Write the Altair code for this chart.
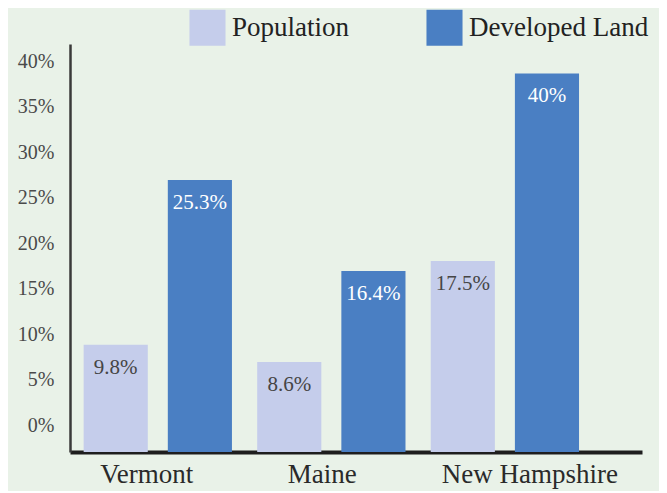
import altair as alt
import pandas as pd

# Data
states = ["Vermont", "Maine", "New Hampshire"]
series = ["Population", "Developed Land"]
# bar heights as drawn (in axis units, measured from the baseline)
pop_heights = [11.8, 9.9, 21.0]
dev_heights = [29.9, 19.9, 41.6]
# printed labels
pop_labels = ["9.8%", "8.6%", "17.5%"]
dev_labels = ["25.3%", "16.4%", "40%"]
y_ticks = [0, 5, 10, 15, 20, 25, 30, 35, 40]

rows = []
for i, s in enumerate(states):
    rows.append({"state": s, "series": "Population", "value": pop_heights[i], "label": pop_labels[i]})
    rows.append({"state": s, "series": "Developed Land", "value": dev_heights[i], "label": dev_labels[i]})
df = pd.DataFrame(rows)

FONT = "Liberation Serif"
POP_COLOR = "#c5cdeb"
DEV_COLOR = "#4a7fc3"
BG = "#e9f2e8"

x_enc = alt.X(
    "state:N",
    sort=states,
    scale=alt.Scale(paddingInner=0, paddingOuter=0.148, align=0.02),
    axis=alt.Axis(
        title=None,
        labelAngle=0,
        ticks=False,
        tickSize=0,
        labelFont=FONT,
        labelFontSize=27,
        labelColor="#2a2a2a",
        labelPadding=9,
        labelBaseline="top",
        labelOffset={
            "condition": [
                {"test": "datum.value === 'Vermont'", "value": -11},
                {"test": "datum.value === 'Maine'", "value": -9},
            ],
            "value": 25,
        },
        domainColor="#1e1e1e",
        domainWidth=4,
    ),
)
xoff_enc = alt.XOffset(
    "series:N",
    sort=series,
    scale=alt.Scale(paddingInner=0.238, paddingOuter=0.15),
)
y_enc = alt.Y(
    "value:Q",
    scale=alt.Scale(domain=[0, 44.84], nice=False, zero=True),
    axis=alt.Axis(
        title=None,
        values=y_ticks,
        labelExpr="datum.value + '%'",
        grid=False,
        ticks=False,
        tickSize=0,
        labelPadding=16,
        labelOffset=-27,
        labelFont=FONT,
        labelFontSize=20,
        labelColor="#4a4a4a",
        domainColor="#3a3a3a",
        domainWidth=2.5,
    ),
)

bars = alt.Chart(df).mark_bar().encode(
    x=x_enc,
    xOffset=xoff_enc,
    y=y_enc,
    color=alt.Color(
        "series:N",
        sort=series,
        scale=alt.Scale(domain=series, range=[POP_COLOR, DEV_COLOR]),
        legend=alt.Legend(
            title=None,
            orient="none",
            legendX=119,
            legendY=-35,
            direction="horizontal",
            symbolType="square",
            symbolSize=1300,
            symbolStrokeWidth=0,
            symbolOpacity=1,
            labelFont=FONT,
            labelFontSize=27,
            labelColor="#222222",
            labelOffset=6,
            labelLimit=0,
            columnPadding=76,
            padding=0,
        ),
    ),
)

texts = alt.Chart(df).mark_text(
    baseline="middle", align="center", dy=23, font=FONT, fontSize=21
).encode(
    x=alt.X("state:N", sort=states),
    xOffset=alt.XOffset("series:N", sort=series),
    y=alt.Y("value:Q"),
    text="label:N",
    color=alt.condition(
        "datum.series === 'Population'", alt.value("#454545"), alt.value("#ffffff")
    ),
)

chart = (
    alt.layer(bars, texts)
    .properties(
        width=572,
        height=408,
        autosize=alt.AutoSizeParams(type="none"),
        padding={"left": 62, "top": 36, "right": 17, "bottom": 39},
        background=BG,
    )
    .configure_view(stroke=None)
)

chart.save("out.html", embed_options={"renderer": "svg", "actions": False})
